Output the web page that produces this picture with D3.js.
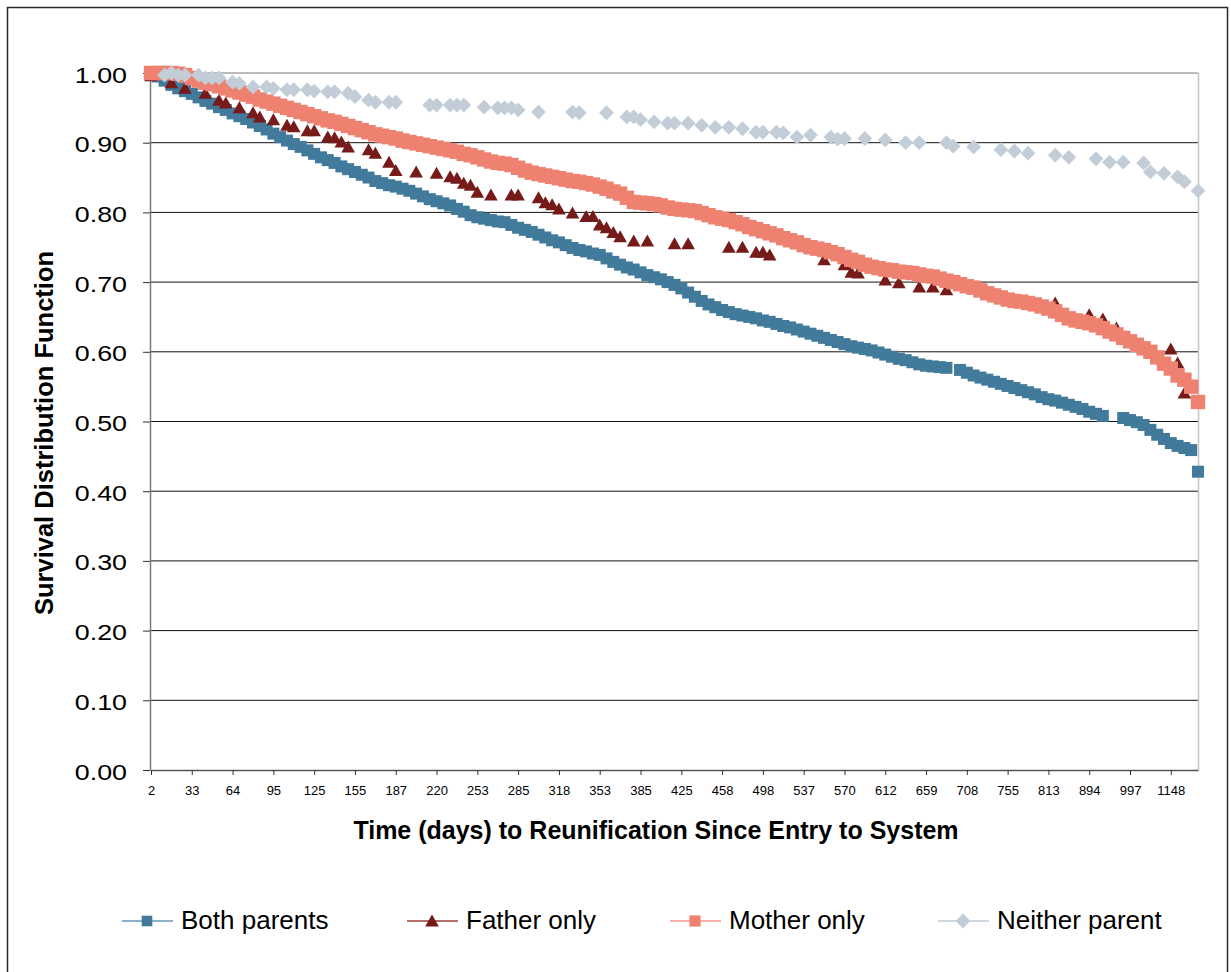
<!DOCTYPE html>
<meta charset="utf-8">
<style>
body { margin: 0; background: #fff; }
text { font-family: "Liberation Sans", Arial, sans-serif; fill: #000; }
</style>
<svg width="1231" height="972"></svg>
<script src="https://cdn.jsdelivr.net/npm/d3@7/dist/d3.min.js"></script>
<script>

// x axis is categorical: one category per event time, a label every 6th category
var tickLabels = [2, 33, 64, 95, 125, 155, 187, 220, 253, 285, 318, 353, 385,
                  425, 458, 498, 537, 570, 612, 659, 708, 755, 813, 894, 997, 1148];
var labelEvery = 6,
    nCats = 155;

var yTicks = [0, 0.1, 0.2, 0.3, 0.4, 0.5, 0.6, 0.7, 0.8, 0.9, 1.0];

// survival values by category (null = no event for that group)
var bothParents = [
  1.000,0.995,0.989,0.983,0.978,0.974,0.970,0.965,0.960,0.956,
  0.951,0.947,0.942,0.938,0.934,0.929,0.924,0.919,0.913,0.908,
  0.903,0.898,0.894,0.889,0.884,0.879,0.875,0.871,0.866,0.862,
  0.858,0.854,0.850,0.845,0.842,0.839,0.837,0.834,0.831,0.827,
  0.823,0.819,0.816,0.813,0.810,0.805,0.801,0.796,0.793,0.791,
  0.789,0.787,0.786,0.782,0.778,0.775,0.772,0.768,0.764,0.760,
  0.757,0.753,0.749,0.746,0.744,0.741,0.739,0.734,0.729,0.725,
  0.721,0.718,0.714,0.710,0.707,0.704,0.700,0.696,0.691,0.685,
  0.679,0.673,0.668,0.664,0.660,0.657,0.654,0.652,0.650,0.648,
  0.645,0.643,0.640,0.637,0.635,0.632,0.629,0.626,0.623,0.620,
  0.617,0.614,0.611,0.608,0.606,0.604,0.602,0.599,0.596,0.593,
  0.590,0.588,0.585,0.582,0.580,0.579,0.578,0.577,null,0.574,
  0.570,0.566,0.563,0.560,0.557,0.554,0.551,0.548,0.545,0.542,
  0.539,0.535,0.532,0.530,0.527,0.524,0.521,0.518,0.514,0.511,
  0.508,null,null,0.505,0.502,0.499,0.495,0.488,0.481,0.475,
  0.469,0.465,0.462,0.459,0.428];

var motherOnly = [
  1.000,1.000,1.000,1.000,0.999,0.997,0.993,0.989,0.986,0.984,
  0.981,0.978,0.975,0.972,0.969,0.966,0.962,0.959,0.956,0.953,
  0.950,0.947,0.944,0.941,0.938,0.935,0.932,0.930,0.927,0.924,
  0.921,0.918,0.915,0.912,0.910,0.908,0.906,0.903,0.901,0.899,
  0.897,0.895,0.893,0.891,0.889,0.887,0.884,0.882,0.879,0.876,
  0.873,0.871,0.870,0.868,0.864,0.860,0.857,0.855,0.853,0.851,
  0.849,0.847,0.845,0.844,0.842,0.840,0.837,0.834,0.830,0.827,
  0.821,0.815,0.814,0.813,0.812,0.810,0.807,0.805,0.804,0.803,
  0.802,0.799,0.796,0.793,0.791,0.789,0.786,0.783,0.779,0.776,
  0.773,0.770,0.767,0.763,0.760,0.757,0.753,0.750,0.748,0.746,
  0.743,0.740,0.736,0.732,0.729,0.725,0.722,0.720,0.718,0.717,
  0.715,0.714,0.713,0.711,0.709,0.708,0.705,0.702,0.700,0.697,
  0.694,0.692,0.688,0.684,0.681,0.678,0.675,0.673,0.672,0.670,
  0.668,0.665,0.662,0.658,0.653,0.648,0.645,0.643,0.641,0.638,
  0.634,0.629,0.625,0.620,0.615,0.610,0.605,0.600,0.592,0.583,
  0.576,0.566,0.560,0.550,0.528];

// sparse groups: category index + value
var fatherIdx = [0,3,5,8,10,11,13,15,16,18,20,21,23,24,26,27,28,29,32,33,35,36,39,42,44,
  45,46,47,48,50,53,54,57,58,59,60,62,64,65,66,67,68,69,71,73,77,79,85,87,89,
  90,91,99,102,103,104,108,110,113,115,117,133,138,140,142,150,151,152];
var fatherVal = [0.996,0.986,0.978,0.971,0.961,0.957,0.950,0.943,0.937,0.933,
  0.925,0.923,0.917,0.917,0.908,0.907,0.901,0.894,0.890,0.885,
  0.872,0.860,0.858,0.856,0.851,0.849,0.842,0.839,0.829,0.825,
  0.825,0.825,0.821,0.814,0.811,0.805,0.799,0.794,0.794,0.782,
  0.778,0.771,0.765,0.759,0.759,0.755,0.755,0.750,0.750,0.743,
  0.743,0.739,0.732,0.725,0.714,0.713,0.703,0.699,0.693,0.693,
  0.689,0.670,0.653,0.647,0.634,0.604,0.584,0.541];

var neitherIdx = [2,3,4,5,7,8,9,10,12,13,15,17,18,20,21,23,24,26,27,29,30,32,33,35,36,
  41,42,44,45,46,49,51,52,53,54,57,62,63,67,70,71,72,74,76,77,79,81,83,85,87,
  89,90,92,93,95,97,100,101,102,105,108,111,113,117,118,121,125,127,129,133,
  135,139,141,143,146,147,149,151,152,154];
var neitherVal = [0.997,1.000,0.997,0.997,0.997,0.993,0.993,0.993,0.987,0.985,
  0.980,0.980,0.978,0.976,0.976,0.976,0.974,0.973,0.973,0.971,
  0.966,0.961,0.958,0.958,0.958,0.954,0.954,0.954,0.954,0.954,
  0.951,0.950,0.950,0.950,0.947,0.944,0.944,0.943,0.943,0.937,
  0.937,0.933,0.930,0.928,0.928,0.928,0.925,0.922,0.922,0.920,
  0.915,0.915,0.915,0.914,0.908,0.911,0.908,0.905,0.906,0.906,
  0.904,0.900,0.900,0.900,0.895,0.894,0.890,0.888,0.885,0.882,
  0.879,0.877,0.872,0.872,0.871,0.858,0.856,0.851,0.844,0.831];

var seriesNames = ["Both parents", "Father only", "Mother only", "Neither parent"];

var svg = d3.select("svg"),
    margin = {top: 73, left: 150},
    width = 1048,
    height = 697;

var x = d3.scaleLinear().domain([0, nCats - 1]).range([1, width]),
    y = d3.scaleLinear().domain([0, 1]).range([height, 0]);

var shapes = {
  blue: "M-6,-6h12v12h-12z",
  blueKey: "M-5.3,-5.3h10.6v10.6h-10.6z",
  salmon: "M-7.2,-7.2h14.4v14.4h-14.4z",
  salmonKey: "M-5.6,-5.6h11.2v11.2h-11.2z",
  triangle: "M0,-6.5L6.8,5.5H-6.8Z",
  diamond: "M0,-7.4L7.4,0L0,7.4L-7.4,0Z"
};

var series = [
  {name: seriesNames[0], color: "#427a9b", line: "#8fb1c7", shape: shapes.blue, key: shapes.blueKey,
   pts: bothParents.map(function(v, i) { return {i: i, v: v}; })},
  {name: seriesNames[1], color: "#761a1a", line: "#b46e6e", shape: shapes.triangle, key: shapes.triangle,
   pts: fatherIdx.map(function(d, k) { return {i: d, v: fatherVal[k]}; })},
  {name: seriesNames[2], color: "#ef8171", line: "#f5b2a8", shape: shapes.salmon, key: shapes.salmonKey,
   pts: motherOnly.map(function(v, i) { return {i: i, v: v}; })},
  {name: seriesNames[3], color: "#c3cdd8", line: "#cfd7e0", shape: shapes.diamond, key: shapes.diamond,
   pts: neitherIdx.map(function(d, k) { return {i: d, v: neitherVal[k]}; })}
];

// outer chart border
svg.append("rect")
    .attr("x", 7.5).attr("y", 7.5)
    .attr("width", 1220).attr("height", 980)
    .attr("fill", "none")
    .attr("stroke", "#2a2a2a")
    .attr("stroke-width", 1.5);

var g = svg.append("g")
    .attr("transform", "translate(" + margin.left + "," + margin.top + ")");

// horizontal gridlines
g.selectAll(".grid")
  .data(yTicks.slice(1))
  .enter().append("line")
    .attr("class", "grid")
    .attr("x1", 0).attr("x2", width)
    .attr("y1", function(d) { return y(d); })
    .attr("y2", function(d) { return y(d); })
    .attr("stroke", function(d) { return d === 1 ? "#777" : "#111"; })
    .attr("stroke-width", 1);

// right edge of plot area
g.append("line")
    .attr("x1", width + 0.5).attr("x2", width + 0.5)
    .attr("y1", 0).attr("y2", height)
    .attr("stroke", "#c4c4c4")
    .attr("stroke-width", 1.5);

// y axis
var yAxis = g.append("g")
    .call(d3.axisLeft(y).tickValues(yTicks).tickFormat(d3.format(".2f"))
      .tickSize(7).tickSizeOuter(0));
yAxis.select(".domain").attr("stroke", "#7a7a7a").attr("stroke-width", 1.5);
yAxis.selectAll(".tick line").attr("stroke", "#333");
yAxis.selectAll("text")
    .attr("x", -23 / 1.22)
    .attr("dy", "0.41em")
    .attr("transform", "scale(1.22,1)")
    .style("font-size", "22px");

// x axis
var xAxis = g.append("g")
    .attr("transform", "translate(0," + height + ")")
    .call(d3.axisBottom(x)
      .tickValues(tickLabels.map(function(d, i) { return i * labelEvery; }))
      .tickFormat(function(d, i) { return tickLabels[i]; })
      .tickSize(5).tickPadding(11).tickSizeOuter(0));
xAxis.select(".domain").attr("stroke", "#555").attr("stroke-width", 1.5);
xAxis.selectAll(".tick line").attr("stroke", "#333");
xAxis.selectAll("text").style("font-size", "13px");

// markers, drawn in series order
series.forEach(function(s) {
  g.append("g")
    .selectAll("path")
    .data(s.pts.filter(function(d) { return d.v != null; }))
    .enter().append("path")
      .attr("d", s.shape)
      .attr("transform", function(d) { return "translate(" + x(d.i) + "," + y(d.v) + ")"; })
      .attr("fill", s.color);
});

// axis titles
svg.append("text")
    .attr("x", 656).attr("y", 839)
    .attr("text-anchor", "middle")
    .style("font-size", "25px").style("font-weight", "bold")
    .text("Time (days) to Reunification Since Entry to System");

svg.append("text")
    .attr("transform", "translate(53,433) rotate(-90)")
    .attr("text-anchor", "middle")
    .style("font-size", "25.5px").style("font-weight", "bold")
    .text("Survival Distribution Function");

// legend
var legendX = [122, 407, 670, 938];
var legend = svg.selectAll(".legend")
  .data(series)
  .enter().append("g")
    .attr("class", "legend")
    .attr("transform", function(d, i) { return "translate(" + legendX[i] + ",921)"; });

legend.append("line")
    .attr("x1", 0).attr("x2", 51)
    .attr("stroke", function(d) { return d.line; })
    .attr("stroke-width", 2);

legend.append("path")
    .attr("d", function(d) { return d.key; })
    .attr("transform", "translate(25,0)")
    .attr("fill", function(d) { return d.color; });

legend.append("text")
    .attr("x", 59).attr("y", 8)
    .style("font-size", "26px")
    .text(function(d) { return d.name; });

</script>
